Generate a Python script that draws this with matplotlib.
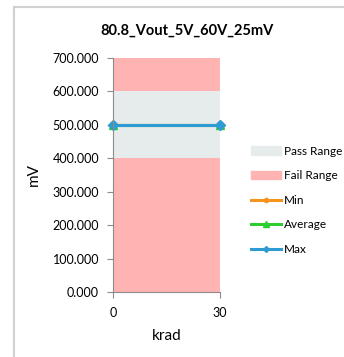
import matplotlib

matplotlib.use("Agg")
import matplotlib.pyplot as plt
from matplotlib.lines import Line2D
from matplotlib.patches import Patch, Rectangle

plt.rcParams["font.family"] = ["Lato", "DejaVu Sans"]

krad = [0, 30]
fail_low = [400.0, 400.0]
pass_band = [200.0, 200.0]
fail_high = [100.0, 100.0]
v_min = [500.0, 500.0]
v_avg = [500.0, 500.0]
v_max = [500.0, 500.0]
yticks = [0, 100, 200, 300, 400, 500, 600, 700]

FAIL = "#FFB3B3"
PASS = "#E6ECEC"
ORANGE = "#F7941D"
GREEN = "#2ECC2E"
BLUE = "#2E9BD2"

fig = plt.figure(figsize=(3.44, 3.57), dpi=100)
fig.patch.set_facecolor("white")
fig.add_artist(Rectangle((14 / 344, -0.05), 1.0, 1.05 - 7 / 357,
                         transform=fig.transFigure, fill=False,
                         edgecolor="#D0D0D0", linewidth=1.5))

ax = fig.add_axes([113 / 344, 1 - 292 / 357, 107 / 344, 234 / 357])

# stacked areas: fail / pass / fail
b1 = fail_low
b2 = [a + b for a, b in zip(b1, pass_band)]
b3 = [a + b for a, b in zip(b2, fail_high)]
ax.fill_between(krad, 0, b1, color=FAIL, linewidth=0)
ax.fill_between(krad, b1, b2, color=PASS, linewidth=0)
ax.fill_between(krad, b2, b3, color=FAIL, linewidth=0)

ax.plot(krad, v_min, color=ORANGE, lw=2.2, marker="o", ms=5, clip_on=False)
ax.plot(krad, v_avg, color=GREEN, lw=2.2, marker="^", ms=6, clip_on=False)
ax.plot(krad, v_max, color=BLUE, lw=2.2, marker="D", ms=5, clip_on=False)

ax.set_xlim(0, 30)
ax.set_ylim(0, 700)
ax.set_xticks(krad)
ax.set_yticks(yticks)
ax.set_yticklabels([f"{v:.3f}" for v in yticks])
for s in ("top", "right"):
    ax.spines[s].set_visible(False)
for s in ("left", "bottom"):
    ax.spines[s].set_color("#8C8C8C")
ax.tick_params(colors="#8C8C8C", labelcolor="black", labelsize=9, length=4)
ax.tick_params(axis="y", pad=6)
ax.tick_params(axis="x", pad=7)
ax.set_ylabel("mV", fontsize=11, labelpad=8)
ax.set_xlabel("krad", fontsize=11, labelpad=7)

fig.text(187 / 344, 1 - 31 / 357, "80.8_Vout_5V_60V_25mV", ha="center",
         va="center", fontsize=10.5, fontweight="bold")

handles = [
    Patch(color=PASS),
    Patch(color=FAIL),
    Line2D([], [], color=ORANGE, lw=2.2, marker="o", ms=3),
    Line2D([], [], color=GREEN, lw=2.2, marker="^", ms=4),
    Line2D([], [], color=BLUE, lw=2.2, marker="D", ms=3),
]
labels = ["Pass Range", "Fail Range", "Min", "Average", "Max"]
fig.legend(handles, labels, loc="upper left", bbox_to_anchor=(246 / 344, 1 - 141 / 357),
           frameon=False, fontsize=8.5, handlelength=2.6, handletextpad=0.2,
           labelspacing=1.15, borderaxespad=0)

fig.savefig("out.png", dpi=100)
